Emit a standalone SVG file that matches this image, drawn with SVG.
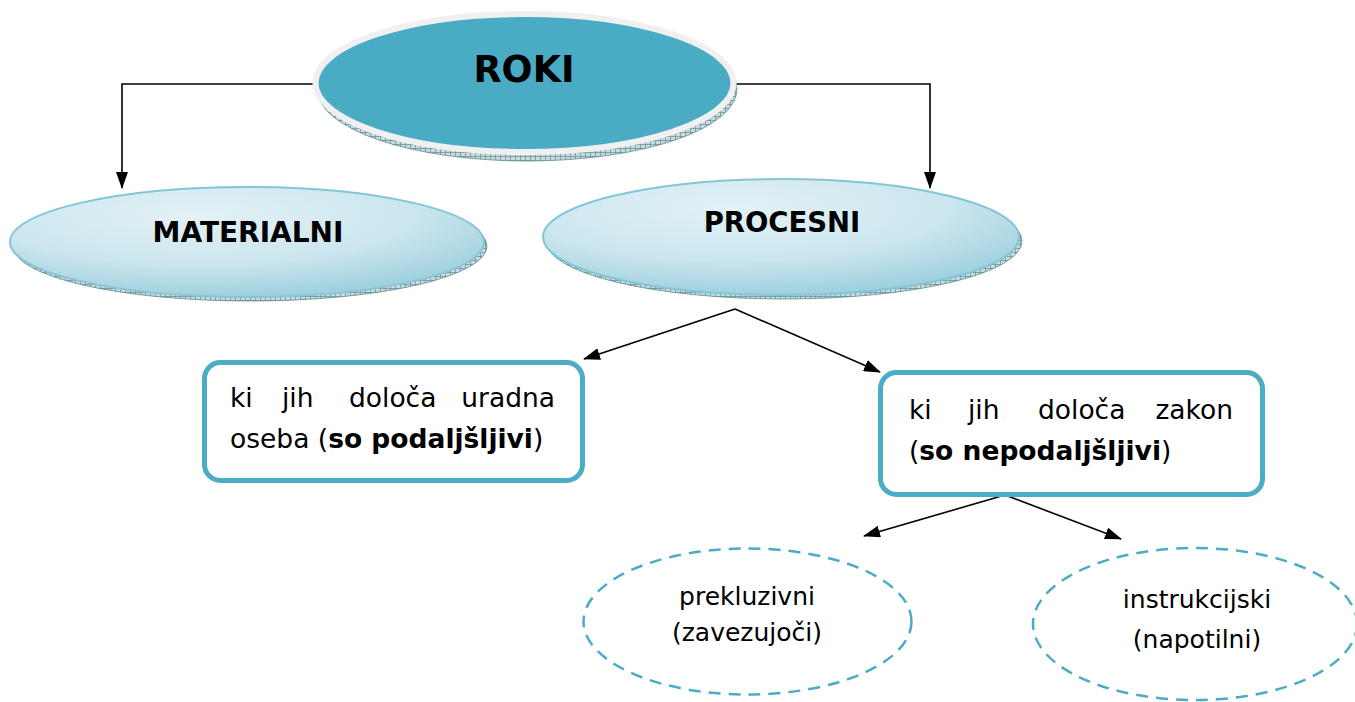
<svg xmlns="http://www.w3.org/2000/svg" width="1355" height="702" viewBox="0 0 1355 702">
  <style>
    .t { font-family: "DejaVu Sans", Verdana, sans-serif; fill: #000; }
    .b { font-weight: bold; }
    .conn { stroke: #000; stroke-width: 1.6; fill: none; }
    .box { fill: #fff; stroke: #4bacc6; stroke-width: 5; }
    .dash { fill: #fff; stroke: #4bacc6; stroke-width: 2.5; stroke-dasharray: 12 8; }
    .sub { fill: url(#lightBlue); stroke: #84c5d6; stroke-width: 2; }
    .rim { fill: url(#hatch); stroke: #5e8b93; stroke-width: 0.8; }
  </style>
  <defs>
    <radialGradient id="lightBlue" cx="0.4" cy="0.25" r="0.75">
      <stop offset="0" stop-color="#e3f2f7"/>
      <stop offset="0.6" stop-color="#cbe6ee"/>
      <stop offset="1" stop-color="#9fd0de"/>
    </radialGradient>
    <pattern id="hatch" width="5" height="4" patternUnits="userSpaceOnUse">
      <rect width="5" height="4" fill="#c9dadd"/>
      <path d="M0 0.5H5M0.5 0V4" stroke="#6f949b" stroke-width="0.8"/>
    </pattern>
    <marker id="arr" markerWidth="17" markerHeight="12" refX="16" refY="6" orient="auto" markerUnits="userSpaceOnUse">
      <path d="M0 0L17 6L0 12z" fill="#000"/>
    </marker>
  </defs>

  <!-- connectors -->
  <g id="connectors">
    <path class="conn" d="M318 84H122V188" marker-end="url(#arr)"/>
    <path class="conn" d="M730 84H930V188" marker-end="url(#arr)"/>
    <path class="conn" d="M735 309L584 359" marker-end="url(#arr)"/>
    <path class="conn" d="M735 309L880 372" marker-end="url(#arr)"/>
    <path class="conn" d="M1005 495L864 536" marker-end="url(#arr)"/>
    <path class="conn" d="M1005 495L1121 539" marker-end="url(#arr)"/>
  </g>

  <!-- top node -->
  <g id="roki">
    <ellipse class="rim" cx="527" cy="89" rx="210" ry="72"/>
    <ellipse cx="524.5" cy="83" rx="209" ry="69" fill="#4aabc5" stroke="#f0f0f0" stroke-width="6"/>
    <text class="t b" x="524" y="82" font-size="36.5" text-anchor="middle">ROKI</text>
  </g>

  <g id="materialni">
    <ellipse class="rim" cx="250" cy="246" rx="237" ry="55"/>
    <ellipse class="sub" cx="247" cy="242" rx="237" ry="55"/>
    <text class="t b" x="248" y="242" font-size="28" text-anchor="middle">MATERIALNI</text>
  </g>

  <g id="procesni">
    <ellipse class="rim" cx="784" cy="241" rx="238" ry="58"/>
    <ellipse class="sub" cx="781" cy="237" rx="238" ry="58"/>
    <text class="t b" x="782" y="232" font-size="27.5" text-anchor="middle">PROCESNI</text>
  </g>

  <g id="uradna-oseba">
    <rect class="box" x="204.5" y="362.5" width="378" height="118" rx="16"/>
    <text class="t" font-size="26.5" y="407">
      <tspan x="230">ki</tspan><tspan x="282">jih</tspan><tspan x="349">določa</tspan><tspan x="555" text-anchor="end">uradna</tspan>
    </text>
    <text class="t" font-size="26.5" x="230" y="448">oseba (<tspan class="b">so podaljšljivi</tspan>)</text>
  </g>

  <g id="zakon">
    <rect class="box" x="880.5" y="372.5" width="382" height="122" rx="16"/>
    <text class="t" font-size="26.5" y="419">
      <tspan x="909">ki</tspan><tspan x="968">jih</tspan><tspan x="1038">določa</tspan><tspan x="1233" text-anchor="end">zakon</tspan>
    </text>
    <text class="t" font-size="26.5" x="909" y="460">(<tspan class="b">so nepodaljšljivi</tspan>)</text>
  </g>

  <g id="prekluzivni">
    <ellipse class="dash" cx="747.5" cy="621.5" rx="164" ry="73"/>
    <text class="t" font-size="25" text-anchor="middle" x="747" y="605">prekluzivni</text>
    <text class="t" font-size="25" text-anchor="middle" x="747" y="641">(zavezujoči)</text>
  </g>

  <g id="instrukcijski">
    <ellipse class="dash" cx="1195" cy="624" rx="162" ry="76"/>
    <text class="t" font-size="25" text-anchor="middle" x="1197" y="608">instrukcijski</text>
    <text class="t" font-size="25" text-anchor="middle" x="1197" y="648">(napotilni)</text>
  </g>
</svg>
